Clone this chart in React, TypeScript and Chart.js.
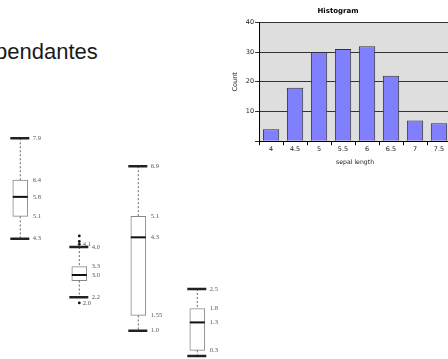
import React, { useEffect, useRef } from "react";
import { Chart, registerables } from "chart.js";

Chart.register(...registerables);

// ---- Box plot data (iris measures) ----
const boxCategories = ["Sepal.Length", "Sepal.Width", "Petal.Length", "Petal.Width"];
const boxMin = [4.3, 2.2, 1.0, 0.1];
const boxQ1 = [5.1, 2.8, 1.55, 0.3];
const boxMedian = [5.8, 3.0, 4.35, 1.3];
const boxQ3 = [6.4, 3.3, 5.1, 1.8];
const boxMax = [7.9, 4.0, 6.9, 2.5];
const boxOutliers = [[], [4.4, 4.2, 4.1, 2.0], [], []];
const boxTickValues = [
  [7.9, 6.4, 5.8, 5.1, 4.3],
  [4.0, 3.3, 3.0, 2.2],
  [6.9, 5.1, 4.35, 1.55, 1.0],
  [2.5, 1.8, 1.3, 0.3],
];
const boxTickText = [
  ["7.9", "6.4", "5.8", "5.1", "4.3"],
  ["4.0", "3.3", "3.0", "2.2"],
  ["6.9", "5.1", "4.3", "1.55", "1.0"],
  ["2.5", "1.8", "1.3", "0.3"],
];
const outlierLabelValues = [[], [4.1, 2.0], [], []];
const outlierLabelText = [[], ["4.1", "2.0"], [], []];

// ---- Histogram data ----
const histCategories = ["4", "4.5", "5", "5.5", "6", "6.5", "7", "7.5"];
const histCounts = [4, 18, 30, 31, 32, 22, 7, 6];
const histTitle = "Histogram";
const histXTitle = "sepal length";
const histYTitle = "Count";

const headingText = "pendantes";

const boxDecor = {
  id: "boxDecor",
  afterDatasetsDraw(chart: any) {
    const { ctx } = chart;
    const xs = chart.scales.x;
    const ys = chart.scales.y;
    ctx.save();
    boxCategories.forEach((_, i) => {
      const cx = xs.getPixelForValue(i);
      const yMax = ys.getPixelForValue(boxMax[i]);
      const yMin = ys.getPixelForValue(boxMin[i]);
      const yQ1 = ys.getPixelForValue(boxQ1[i]);
      const yQ3 = ys.getPixelForValue(boxQ3[i]);
      const yMed = ys.getPixelForValue(boxMedian[i]);
      // whiskers
      ctx.strokeStyle = "#666";
      ctx.lineWidth = 1;
      ctx.setLineDash([2, 2]);
      ctx.beginPath();
      ctx.moveTo(cx, yMax);
      ctx.lineTo(cx, yQ3);
      ctx.moveTo(cx, yQ1);
      ctx.lineTo(cx, yMin);
      ctx.stroke();
      ctx.setLineDash([]);
      // caps
      ctx.strokeStyle = "#222";
      ctx.lineWidth = 2.5;
      ctx.beginPath();
      ctx.moveTo(cx - 10, yMax);
      ctx.lineTo(cx + 9, yMax);
      ctx.moveTo(cx - 10, yMin);
      ctx.lineTo(cx + 9, yMin);
      ctx.stroke();
      // median
      ctx.strokeStyle = "#111";
      ctx.lineWidth = 2;
      ctx.beginPath();
      ctx.moveTo(cx - 7.5, yMed);
      ctx.lineTo(cx + 7.5, yMed);
      ctx.stroke();
      // outliers
      ctx.fillStyle = "#111";
      boxOutliers[i].forEach((v) => {
        ctx.beginPath();
        ctx.arc(cx, ys.getPixelForValue(v), 1.4, 0, Math.PI * 2);
        ctx.fill();
      });
      // labels
      ctx.fillStyle = "#555";
      ctx.font = "6.5px 'Liberation Serif', 'DejaVu Serif', serif";
      ctx.textAlign = "left";
      ctx.textBaseline = "middle";
      boxTickValues[i].forEach((v, k) => {
        ctx.fillText(boxTickText[i][k], cx + 12.5, ys.getPixelForValue(v));
      });
      outlierLabelValues[i].forEach((v, k) => {
        ctx.fillText(outlierLabelText[i][k], cx + 3.5, ys.getPixelForValue(v));
      });
    });
    ctx.restore();
  },
};

const plotBg = {
  id: "plotBg",
  beforeDraw(chart: any) {
    const { ctx, chartArea } = chart;
    ctx.save();
    ctx.fillStyle = "#dedede";
    ctx.fillRect(chartArea.left, chartArea.top, chartArea.right - chartArea.left, chartArea.bottom - chartArea.top);
    ctx.restore();
  },
};

export default function App() {
  const boxRef = useRef<HTMLCanvasElement | null>(null);
  const histRef = useRef<HTMLCanvasElement | null>(null);

  useEffect(() => {
    const boxChart = new Chart(boxRef.current as HTMLCanvasElement, {
      type: "bar",
      data: {
        datasets: [
          {
            data: boxCategories.map((_, i) => ({ x: i, y: [boxQ1[i], boxQ3[i]] })) as any,
            backgroundColor: "#ffffff",
            borderColor: "#888",
            borderWidth: 1,
            borderSkipped: false,
            barThickness: 15,
          },
        ],
      },
      options: {
        animation: false,
        responsive: false,
        layout: { padding: 0 },
        plugins: { legend: { display: false }, tooltip: { enabled: false } },
        scales: {
          x: { type: "linear", offset: false, min: -0.344, max: 3.554, display: false },
          y: { type: "linear", min: -0.011, max: 9.272, display: false },
        },
      },
      plugins: [boxDecor],
    });

    const family = "'DejaVu Sans', Verdana, sans-serif";
    const histChart = new Chart(histRef.current as HTMLCanvasElement, {
      type: "bar",
      data: {
        labels: histCategories,
        datasets: [
          {
            data: histCounts,
            backgroundColor: "#8080ff",
            borderColor: "#333",
            borderWidth: 1,
            categoryPercentage: 1,
            barPercentage: 0.68,
          },
        ],
      },
      options: {
        animation: false,
        responsive: false,
        layout: { padding: { left: 0, right: 4, top: 0, bottom: 0 } },
        plugins: {
          legend: { display: false },
          tooltip: { enabled: false },
          title: {
            display: true,
            text: histTitle,
            color: "#000",
            font: { family, size: 7, weight: "bold" },
            padding: { top: 7, bottom: 7 },
          },
        },
        scales: {
          x: {
            grid: { drawOnChartArea: false, offset: true, tickLength: 4, color: "#000" },
            border: { color: "#000" },
            ticks: { font: { family, size: 6.5 }, color: "#222", padding: 0, maxRotation: 0, autoSkip: false },
            title: {
              display: true,
              text: histXTitle,
              color: "#222",
              font: { family, size: 6.2 },
              padding: { top: 5.6, bottom: 0 },
            },
          },
          y: {
            min: 0,
            max: 40,
            ticks: {
              stepSize: 10,
              font: { family, size: 6.5 },
              color: "#222",
              padding: 1,
              callback: (v: any) => (v === 0 ? "" : String(v)),
            },
            grid: { color: "#333", tickLength: 4 },
            border: { color: "#000" },
            title: {
              display: true,
              text: histYTitle,
              color: "#222",
              font: { family, size: 6.5 },
              padding: { top: 6, bottom: 6 },
            },
          },
        },
      },
      plugins: [plotBg],
    });

    return () => {
      boxChart.destroy();
      histChart.destroy();
    };
  }, []);

  return (
    <div
      style={{
        position: "fixed",
        left: 0,
        top: 0,
        width: 448,
        height: 359,
        overflow: "hidden",
        background: "#fff",
      }}
    >
      <div
        style={{
          position: "absolute",
          left: -5,
          top: 41.4,
          fontFamily: "'Liberation Sans', Arial, sans-serif",
          fontSize: 22,
          lineHeight: "22px",
          color: "#1a1a1a",
          whiteSpace: "nowrap",
        }}
      >
        {headingText}
      </div>
      <canvas
        ref={boxRef}
        width={230}
        height={259}
        style={{ position: "absolute", left: 0, top: 100, width: 230, height: 259 }}
      />
      <canvas
        ref={histRef}
        width={230}
        height={166}
        style={{ position: "absolute", left: 225, top: 0, width: 230, height: 166 }}
      />
    </div>
  );
}
